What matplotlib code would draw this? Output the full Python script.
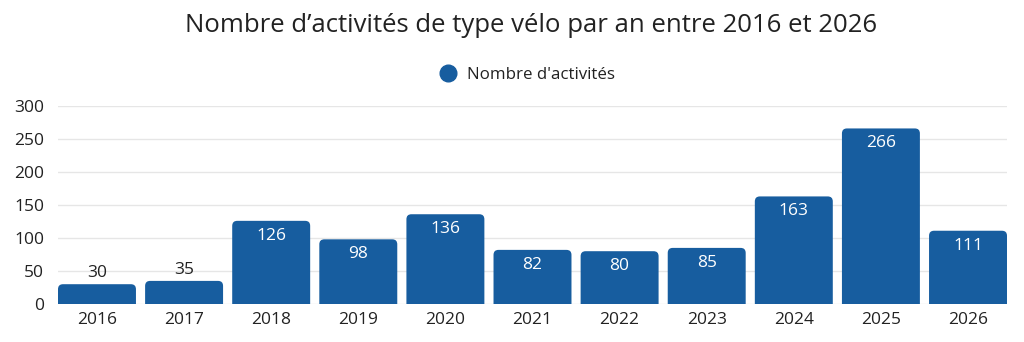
import matplotlib
matplotlib.use("Agg")
import matplotlib.pyplot as plt
from matplotlib.patches import FancyBboxPatch
from matplotlib.lines import Line2D

plt.rcParams['font.family'] = ['Open Sans', 'DejaVu Sans']

years = ["2016", "2017", "2018", "2019", "2020", "2021", "2022", "2023", "2024", "2025", "2026"]
activities = [30, 35, 126, 98, 136, 82, 80, 85, 163, 266, 111]
y_ticks = [0, 50, 100, 150, 200, 250, 300]

title = "Nombre d’activités de type vélo par an entre 2016 et 2026"
series_name = "Nombre d'activités"

bar_color = "#175D9F"
text_color = "#222222"

W, H, DPI = 1024, 342, 100
fig = plt.figure(figsize=(W / DPI, H / DPI), dpi=DPI)
left_px, right_px, top_px, bottom_px = 58, 1007, 106, 304
ax = fig.add_axes([left_px / W, (H - bottom_px) / H,
                   (right_px - left_px) / W, (bottom_px - top_px) / H])

n = len(years)
width = 0.895
ax.set_xlim(-width / 2, n - 1 + width / 2)
ax.set_ylim(0, 300)

# data units per pixel, to keep the corner rounding circular
px_x = (n - 1 + width) / (right_px - left_px)
px_y = 300 / (bottom_px - top_px)
radius_px = 5

for i, v in enumerate(activities):
    x0 = i - width / 2
    patch = FancyBboxPatch(
        (x0, -20), width, v + 20,
        boxstyle=f"round,pad=0,rounding_size={radius_px * px_x}",
        mutation_aspect=px_y / px_x,
        facecolor=bar_color, edgecolor="none", zorder=3, clip_on=True,
    )
    ax.add_patch(patch)
    if v >= 60:
        ax.text(i, v - 15 * px_y, str(v), ha="center", va="center",
                color="white", fontsize=12.5, zorder=4)
    else:
        ax.text(i, v + 11 * px_y, str(v), ha="center", va="center",
                color=text_color, fontsize=12.5, zorder=4)

ax.set_xticks(range(n))
ax.set_xticklabels(years)
ax.set_yticks(y_ticks)
ax.tick_params(axis="both", length=0, labelsize=12.5, colors=text_color)
ax.tick_params(axis="x", pad=6)
ax.tick_params(axis="y", pad=10)
for s in ax.spines.values():
    s.set_visible(False)
ax.grid(axis="y", color="#e6e6e6", linewidth=1, zorder=0)
ax.set_axisbelow(True)

fig.text(531 / W, 1 - 25 / H, title, ha="center", va="center",
         fontsize=18.5, color=text_color)

handle = Line2D([], [], marker="o", linestyle="none", markersize=12,
                markerfacecolor=bar_color, markeredgecolor=bar_color)
fig.legend([handle], [series_name], loc="center",
           bbox_to_anchor=(523 / W, 1 - 75 / H), frameon=False,
           fontsize=12.2, handletextpad=0.1, labelcolor=text_color)

fig.savefig("out.png", dpi=DPI)
